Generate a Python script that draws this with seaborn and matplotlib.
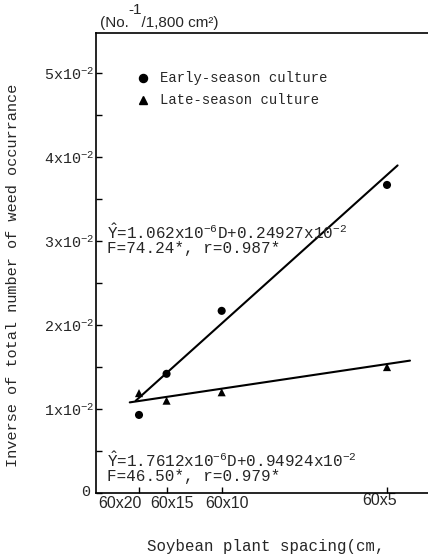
import numpy as np
import pandas as pd
import matplotlib
matplotlib.use("Agg")
import matplotlib.pyplot as plt
import matplotlib.transforms as mtransforms
import seaborn as sns

# Plant spacings (row x in-row, cm) and weed-occurrence inverses
spacing_labels = ["60x20", "60x15", "60x10", "60x5"]
in_row_cm = [20, 15, 10, 5]
row_cm = 60
early_inv = [0.93e-2, 1.42e-2, 2.17e-2, 3.67e-2]
late_inv = [1.19e-2, 1.10e-2, 1.20e-2, 1.50e-2]

# Regression coefficients (slope per plant/10a, intercept)
early_coef = (1.062e-6, 0.24927e-2)
late_coef = (1.7612e-7, 0.94924e-2)
early_span = (8000, 34400)
late_span = (7400, 35650)

y_ticks = [0, 1e-2, 2e-2, 3e-2, 4e-2, 5e-2]
y_tick_labels = ["0", "1x10$^{-2}$", "2x10$^{-2}$", "3x10$^{-2}$",
                 "4x10$^{-2}$", "5x10$^{-2}$"]

# plants per 10a (1e7 cm^2)
density = [1e7 / (row_cm * s) for s in in_row_cm]

df = pd.DataFrame({
    "D": density * 2,
    "inv": early_inv + late_inv,
    "season": ["Early"] * 4 + ["Late"] * 4,
})

def fit_line(coef, span):
    d = np.array(span, dtype=float)
    return pd.DataFrame({"D": d, "inv": coef[0] * d + coef[1]})

sns.set_style("ticks")
plt.rcParams["font.family"] = ["Liberation Mono", "DejaVu Sans"]
plt.rcParams["mathtext.fontset"] = "custom"
plt.rcParams["mathtext.rm"] = "Liberation Mono"
plt.rcParams["mathtext.it"] = "Liberation Mono"
plt.rcParams["mathtext.bf"] = "Liberation Mono"

W, H = 428, 558
fig = plt.figure(figsize=(W / 100, H / 100), dpi=100)
ax = fig.add_axes([96 / W, 1 - 493 / H, 1 - 96 / W, (493 - 33) / H])

def px(x, y):
    return x / W, 1 - y / H

sns.lineplot(data=fit_line(early_coef, early_span), x="D", y="inv",
             color="black", lw=1.5, ax=ax)
sns.lineplot(data=fit_line(late_coef, late_span), x="D", y="inv",
             color="black", lw=1.5, ax=ax)
sns.scatterplot(data=df, x="D", y="inv", style="season",
                markers={"Early": "o", "Late": "^"}, color="black",
                s=34, edgecolor="black", linewidth=0, legend=False, ax=ax,
                zorder=3)

ax.set_xlim(3998, 37466)
ax.set_ylim(0, 0.0548)
ax.set_xticks(density)
ax.set_xticklabels(spacing_labels, fontsize=11.5, family="Liberation Sans")
ax.set_yticks(y_ticks)
ax.set_yticklabels(y_tick_labels, fontsize=10.8)
ax.set_yticks([0.5e-2, 1.5e-2, 2.5e-2, 3.5e-2, 4.5e-2], minor=True)
ax.tick_params(axis="both", which="both", direction="in", length=4,
               width=1, color="black")
ax.tick_params(axis="y", which="major", pad=1.5)
ax.tick_params(axis="x", which="major", pad=2)
for side in ("left", "bottom", "top"):
    ax.spines[side].set_linewidth(1.2)
    ax.spines[side].set_color("black")
ax.spines["right"].set_visible(False)
ax.set_xlabel("")
ax.set_ylabel("")

# typed tick labels sit a little off their ticks (offsets in pixels)
label_shift = [(-19, 0), (5, 0), (5, 0), (-7, 3)]
for lab, (dx, dy) in zip(ax.get_xticklabels(), label_shift):
    lab.set_transform(lab.get_transform() + mtransforms.ScaledTranslation(
        dx / 100, dy / 100, fig.dpi_scale_trans))
zero_lab = ax.get_yticklabels()[0]
zero_lab.set_transform(zero_lab.get_transform() + mtransforms.ScaledTranslation(
    -4 / 100, 2 / 100, fig.dpi_scale_trans))

# legend
for yy, mk, label in [(78, "o", "Early-season culture"),
                      (100, "^", "Late-season culture")]:
    fig.lines.append(matplotlib.lines.Line2D(
        [143 / W], [1 - yy / H], marker=mk, color="black", ms=5.8,
        transform=fig.transFigure, linestyle="none"))
    fig.text(*px(160, yy), label, fontsize=10, va="center", ha="left")

# regression equations
fs_eq = 11.5
fig.text(*px(107, 232), r"$\hat{\mathrm{Y}}$=1.062x10$^{-6}$D+0.24927x10$^{-2}$",
         fontsize=fs_eq, va="center", ha="left")
fig.text(*px(107, 249), "F=74.24*, r=0.987*", fontsize=fs_eq, va="center",
         ha="left")
fig.text(*px(107, 460), r"$\hat{\mathrm{Y}}$=1.7612x10$^{-6}$D+0.94924x10$^{-2}$",
         fontsize=fs_eq, va="center", ha="left")
fig.text(*px(107, 477), "F=46.50*, r=0.979*", fontsize=fs_eq, va="center",
         ha="left")

# unit header
fig.text(*px(100, 23), "(No.   /1,800 cm²)", fontsize=11, va="center",
         ha="left", family="Liberation Sans")
fig.text(*px(128, 10), "-1", fontsize=11, va="center", ha="left",
         family="Liberation Sans")

# axis titles
fig.text(*px(13, 275), "Inverse of total number of weed occurrance",
         fontsize=11, rotation=90, va="center", ha="center")
fig.text(*px(266, 546), "Soybean plant spacing(cm,", fontsize=11.3,
         va="center", ha="center")

fig.savefig("out.png", dpi=100)
